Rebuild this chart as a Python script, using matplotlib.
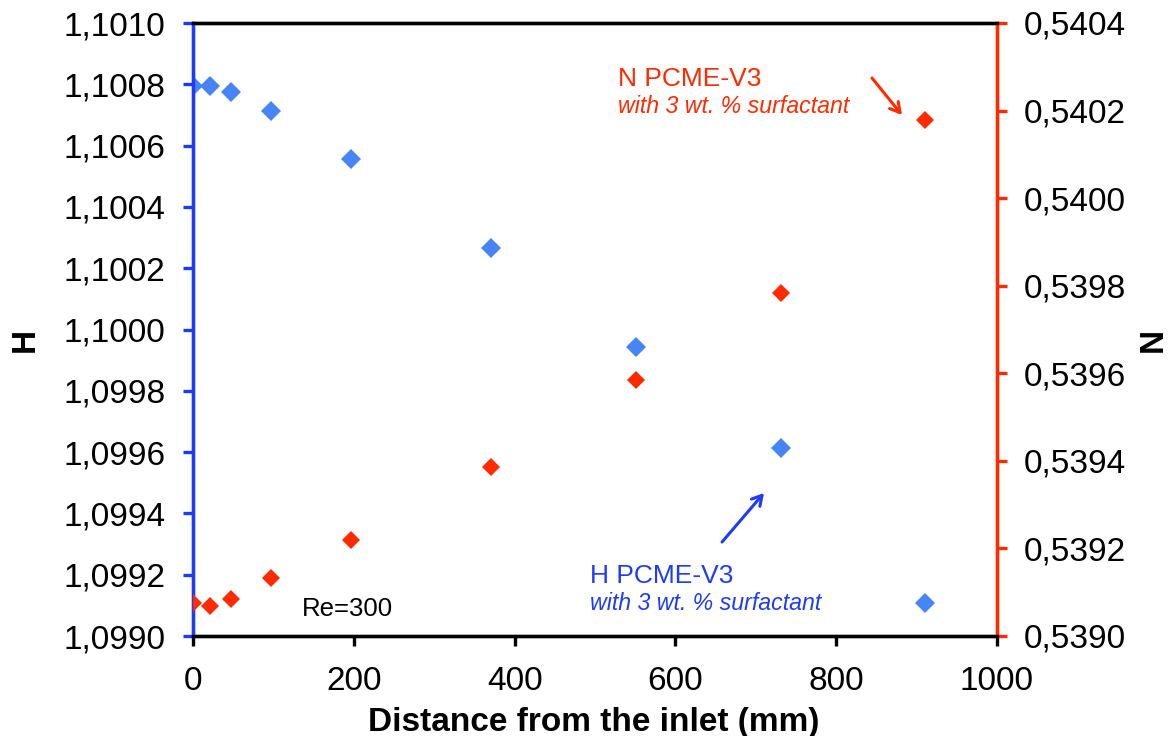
import matplotlib
matplotlib.use("Agg")
import matplotlib.pyplot as plt
from matplotlib.ticker import FuncFormatter, MultipleLocator

plt.rcParams['font.family'] = ['Liberation Sans', 'DejaVu Sans']

# Distance from the inlet (mm) of the measuring stations
distance = [0, 21, 47, 97, 197, 371, 551, 731, 910]
# Dimensionless H and N along the channel (PCME-V3, 3 wt. % surfactant)
h_values = [1.100795, 1.100795, 1.100775, 1.100713, 1.100556,
            1.100265, 1.099942, 1.099614, 1.099108]
n_values = [0.539075, 0.539069, 0.539084, 0.539132, 0.539219,
            0.539387, 0.539585, 0.539784, 0.540178]

x_ticks = [0, 200, 400, 600, 800, 1000]

BLUE_MARK = '#4784F5'
BLUE = '#1E3CF5'
RED = '#FF2A00'

W, H = 1171, 736
fig = plt.figure(figsize=(W / 100, H / 100), dpi=100)
ax = fig.add_axes([193 / W, 1 - 636 / H, (997 - 193) / W, (636 - 23) / H])
ax2 = ax.twinx()

ax.plot(distance, h_values, linestyle='none', marker='D', ms=9.7,
        mew=0, color=BLUE_MARK, zorder=3)
ax2.plot(distance, n_values, linestyle='none', marker='D', ms=9.0,
         mew=0, color=RED, zorder=3)

ax.set_xlim(0, 1000)
ax.set_ylim(1.0990, 1.1010)
ax2.set_ylim(0.5390, 0.5404)
ax.set_xticks(x_ticks)
ax.yaxis.set_major_locator(MultipleLocator(0.0002))
ax2.yaxis.set_major_locator(MultipleLocator(0.0002))

comma4 = FuncFormatter(lambda v, p: f"{v:.4f}".replace('.', ','))
ax.yaxis.set_major_formatter(comma4)
ax2.yaxis.set_major_formatter(comma4)

for a in (ax, ax2):
    for s in a.spines.values():
        s.set_linewidth(2.4)
        s.set_color('black')
ax2.spines['left'].set_color(BLUE)
ax2.spines['right'].set_color(RED)
ax.spines['left'].set_color(BLUE)
ax.spines['right'].set_color(RED)

ax.tick_params(axis='x', direction='out', length=7, width=2.4, color='black',
               labelsize=24, pad=14.5)
ax.tick_params(axis='y', direction='out', length=7, width=2.4, color=BLUE,
               labelsize=24, pad=13)
ax2.tick_params(axis='y', direction='out', length=7, width=2.4, color=RED,
                labelsize=24, pad=12)

# Axis titles
fig.text(594 / W, 1 - 722 / H, 'Distance from the inlet (mm)', ha='center',
         va='center', fontsize=24, fontweight='bold')
fig.text(25 / W, 1 - 340 / H, 'H', ha='center', va='center', rotation=90,
         fontsize=24, fontweight='bold')
fig.text(1153 / W, 1 - 340 / H, 'N', ha='center', va='center', rotation=90,
         fontsize=24, fontweight='bold')

# Series annotations
ax.text(0.5286, 0.897, 'N PCME-V3', transform=ax.transAxes, color=RED,
        fontsize=19, va='baseline', ha='left')
ax.text(0.5286, 0.853, 'with 3 wt. % surfactant', transform=ax.transAxes,
        color=RED, fontsize=16.7, style='italic', va='baseline', ha='left')
ax.text(0.4938, 0.0865, 'H PCME-V3', transform=ax.transAxes, color=BLUE,
        fontsize=19, va='baseline', ha='left')
ax.text(0.4938, 0.0424, 'with 3 wt. % surfactant', transform=ax.transAxes,
        color=BLUE, fontsize=16.7, style='italic', va='baseline', ha='left')
ax.text(0.1356, 0.0326, 'Re=300', transform=ax.transAxes, color='black',
        fontsize=18.5, va='baseline', ha='left')

ax.annotate('', xy=(0.8818, 0.8499), xytext=(0.8445, 0.9103),
            xycoords='axes fraction', textcoords='axes fraction',
            arrowprops=dict(arrowstyle='->,head_length=0.7,head_width=0.4',
                            color=RED, lw=2.2, shrinkA=0, shrinkB=0))
ax.annotate('', xy=(0.7102, 0.2333), xytext=(0.658, 0.1533),
            xycoords='axes fraction', textcoords='axes fraction',
            arrowprops=dict(arrowstyle='->,head_length=0.7,head_width=0.4',
                            color=BLUE, lw=2.2, shrinkA=0, shrinkB=0))

fig.savefig('out.png', dpi=100)
